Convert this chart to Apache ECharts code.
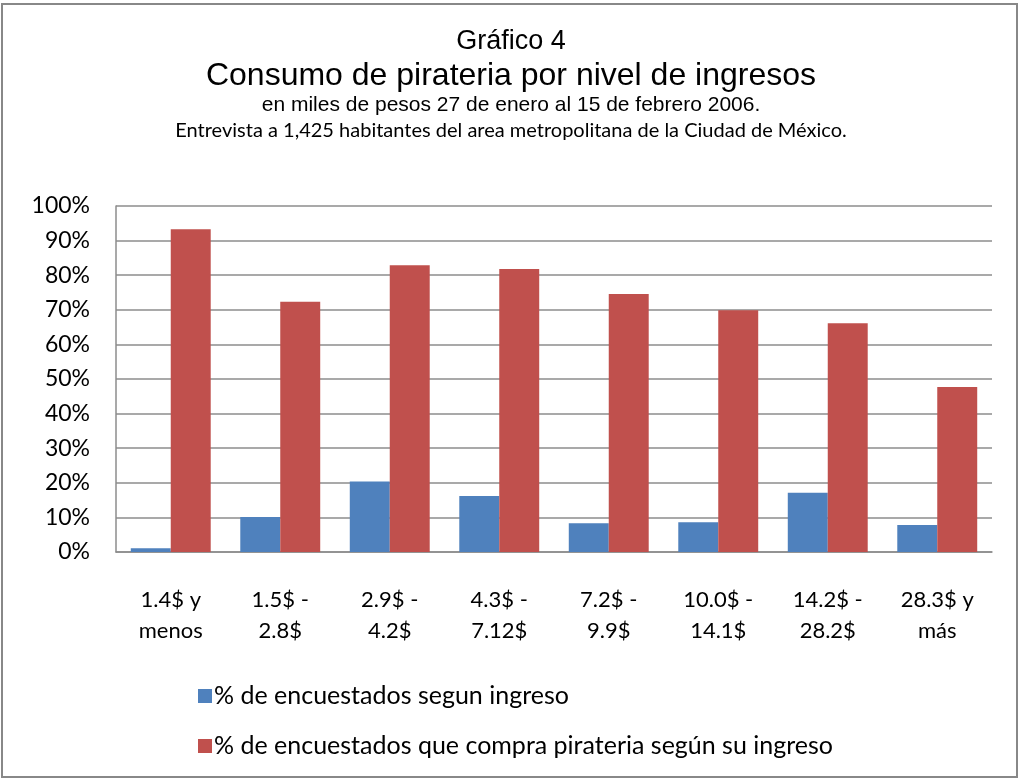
<!DOCTYPE html>
<html lang="es">
<head>
<meta charset="UTF-8">
<title>Gráfico 4</title>
<script src="https://cdn.jsdelivr.net/npm/echarts@6/dist/echarts.min.js"></script>
<style>
    body { margin: 0; background: #fff; }
    #main { width: 1020px; height: 780px; }
</style>
</head>
<body>
<div id="main"></div>
<script>
    // datos
    const categorias = ['1.4$ y\nmenos', '1.5$ -\n2.8$', '2.9$ -\n4.2$', '4.3$ -\n7.12$',
        '7.2$ -\n9.9$', '10.0$ -\n14.1$', '14.2$ -\n28.2$', '28.3$ y\nmás'];
    const encuestados = [1.1, 10.1, 20.4, 16.2, 8.3, 8.6, 17.1, 7.8];
    const compraPirateria = [93.3, 72.3, 82.9, 81.8, 74.6, 69.9, 66.1, 47.7];
    const nombresSeries = ['% de encuestados segun ingreso',
        '% de encuestados que compra pirateria según su ingreso'];

    const calibri = 'Lato, "Open Sans", sans-serif';
    const arial = '"Liberation Sans", Arial, sans-serif';

    // lineas del titulo, centradas
    function titulo(texto, y, font) {
        return { type: 'text', x: 511, y: y, silent: true,
            style: { text: texto, font: font, fill: '#000', align: 'center', verticalAlign: 'middle' } };
    }

    const chart = echarts.init(document.getElementById('main'));
    chart.setOption({
        animation: false,
        backgroundColor: '#fff',
        graphic: [
            { type: 'rect', shape: { x: 2, y: 4, width: 1015, height: 773 },
              style: { fill: 'none', stroke: '#888', lineWidth: 2 }, silent: true },
            titulo('Gráfico 4', 42, '27px ' + arial),
            titulo('Consumo de pirateria por nivel de ingresos', 76, '32px ' + arial),
            titulo('en miles de pesos 27 de enero al 15 de febrero 2006.', 105, '21px ' + arial),
            titulo('Entrevista a 1,425 habitantes del area metropolitana de la Ciudad de México.', 131, '20px ' + calibri)
        ],
        grid: { left: 116, right: 28, top: 206, bottom: 228 },
        legend: {
            orient: 'vertical',
            left: 193,
            top: 676,
            itemGap: 20,
            itemWidth: 14,
            itemHeight: 14,
            icon: 'rect',
            textStyle: { fontFamily: calibri, fontSize: 25, lineHeight: 30, color: '#000', padding: [0, 0, 0, -3] },
            data: nombresSeries
        },
        xAxis: {
            type: 'category',
            data: categorias,
            axisLine: { lineStyle: { color: '#8c8c8c', width: 1.5 } },
            axisTick: { show: false },
            axisLabel: { color: '#000', fontFamily: calibri, fontSize: 22, lineHeight: 31, margin: 32, interval: 0 }
        },
        yAxis: {
            type: 'value',
            min: 0,
            max: 100,
            interval: 10,
            axisLine: { show: true, lineStyle: { color: '#8c8c8c', width: 1.5 } },
            axisTick: { show: false },
            splitLine: { lineStyle: { color: '#8c8c8c', width: 1.5 } },
            axisLabel: { color: '#000', fontFamily: calibri, fontSize: 23, margin: 26, formatter: '{value}%' }
        },
        series: [
            {
                name: nombresSeries[0], type: 'bar', data: encuestados,
                barGap: '0%', barCategoryGap: '27%',
                itemStyle: { color: '#4F81BD' }
            },
            {
                name: nombresSeries[1], type: 'bar', data: compraPirateria,
                barGap: '0%', barCategoryGap: '27%',
                itemStyle: { color: '#C0504D' }
            }
        ]
    });
</script>
</body>
</html>
